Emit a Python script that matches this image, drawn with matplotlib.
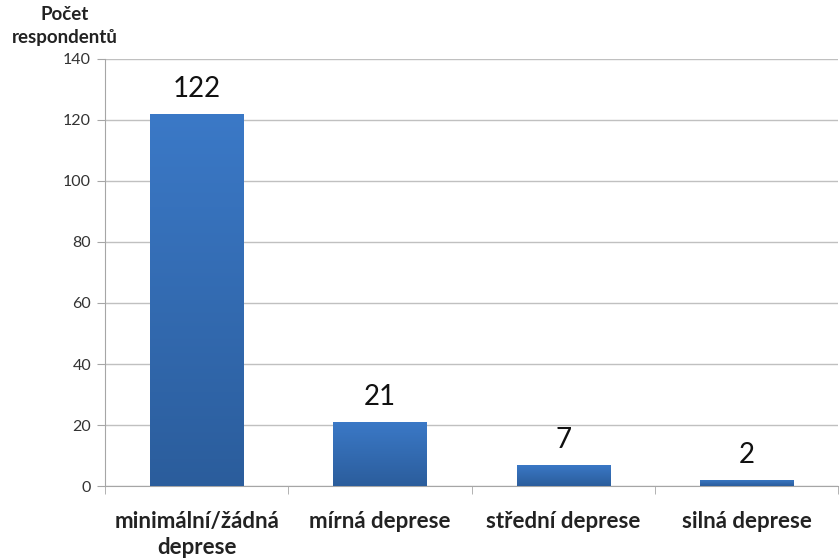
import numpy as np
import matplotlib
matplotlib.use("Agg")
import matplotlib.pyplot as plt
from matplotlib.colors import LinearSegmentedColormap

categories = ["minimální/žádná\ndeprese", "mírná deprese", "střední deprese", "silná deprese"]
counts = [122, 21, 7, 2]
y_ticks = [0, 20, 40, 60, 80, 100, 120, 140]

plt.rcParams['font.family'] = ['Lato', 'DejaVu Sans']

fig = plt.figure(figsize=(8.4, 5.6), dpi=100)
ax = fig.add_axes([0.125, 0.132, 0.873, 0.763])

x = np.arange(len(categories))
bars = ax.bar(x, counts, width=0.51, facecolor='none', edgecolor='none', zorder=3)

# vertical gradient fill for each bar: lighter at the top, darker at the base
grad_cmap = LinearSegmentedColormap.from_list("barblue", ["#2B5D9C", "#3B79C7"])
grad = np.linspace(0, 1, 256).reshape(-1, 1)
for rect in bars:
    x0, y0 = rect.get_x(), rect.get_y()
    w, h = rect.get_width(), rect.get_height()
    im = ax.imshow(grad, cmap=grad_cmap, origin='lower', aspect='auto',
                   extent=[x0, x0 + w, y0, y0 + h], zorder=3, interpolation='bicubic')
    im.set_clip_path(rect)

for xi, v in zip(x, counts):
    ax.text(xi, v + 4, str(v), ha='center', va='bottom', fontsize=20, color='#111111', zorder=4)

ax.set_xlim(-0.5, len(categories) - 0.5)
ax.set_ylim(0, 140)
ax.set_yticks(y_ticks)
ax.set_yticklabels([str(t) for t in y_ticks], fontsize=11.5, color='#333333')

ax.set_xticks(x)
ax.set_xticklabels(categories, fontsize=16, fontweight='bold', color='#222222',
                   linespacing=1.28)
ax.tick_params(axis='x', length=0, pad=18)
ax.set_xticks(np.arange(-0.5, len(categories)), minor=True)
ax.tick_params(axis='x', which='minor', length=6, color='#A6A6A6')
ax.tick_params(axis='y', length=6, color='#A6A6A6', pad=4)

ax.grid(axis='y', color='#C0C0C0', linewidth=1, zorder=0)
ax.set_axisbelow(True)
for s in ['top', 'right']:
    ax.spines[s].set_visible(False)
ax.spines['left'].set_color('#A6A6A6')
ax.spines['bottom'].set_color('#A6A6A6')

fig.text(0.077, 0.953, "Počet\nrespondentů", ha='center', va='center', fontsize=13.5,
         fontweight='bold', color='#222222', linespacing=1.42)

fig.savefig("out.png", dpi=100)
